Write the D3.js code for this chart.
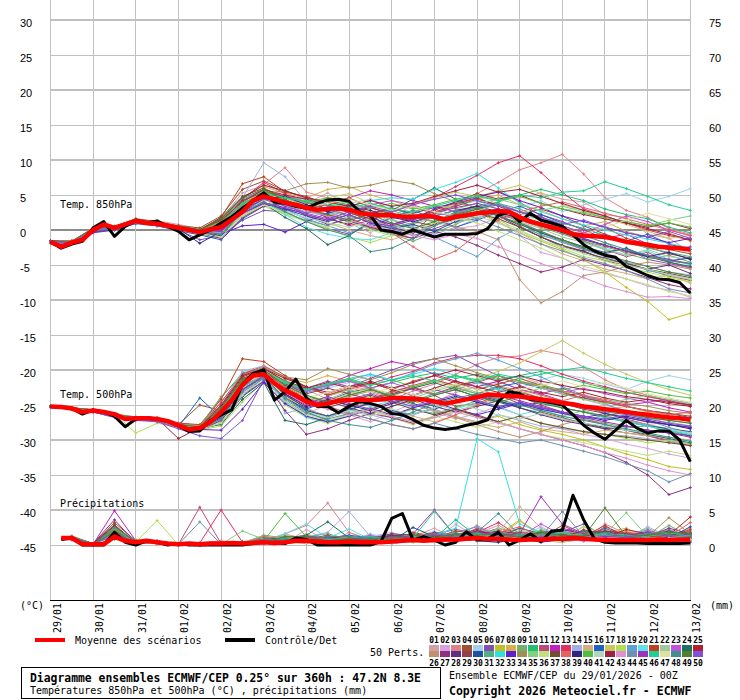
<!DOCTYPE html>
<html><head><meta charset="utf-8">
<script src="https://cdn.jsdelivr.net/npm/d3@7"></script>
<style>body{margin:0;background:#fff}svg{display:block}</style>
</head><body>
<svg id="c" width="740" height="700"></svg>
<script>
const dateLabels=["29/01","30/01","31/01","01/02","02/02","03/02","04/02","05/02","06/02","07/02","08/02","09/02","10/02","11/02","12/02","13/02"];
const leftTicks=[30,25,20,15,10,5,0,-5,-10,-15,-20,-25,-30,-35,-40,-45];
const rightTicks=[75,70,65,60,55,50,45,40,35,30,25,20,15,10,5,0];
const memberColors=["#d4a0a8","#d8a0e0","#e08088","#a05030","#a0d0f0","#8050b0","#c0c020","#d8b050","#70b070","#20c070","#c04878","#c020c0","#e03060","#a0b0e0","#d0b080","#2060c0","#c8c860","#b0e050","#60a0d8","#60e0e8","#c04020","#a0c8a0","#c050e0","#207060","#b02030",
"#c09070","#903080","#603080","#904050","#2050a0","#50b080","#30e0e0","#6020d0","#a09050","#80d080","#c0e080","#705030","#e86060","#302880","#50c040","#b0d8c0","#a02040","#e090d0","#7090b0","#a030c0","#20d090","#e0e0a0","#409090","#508030","#8050e0"];
// 6-hourly series (0..360h)
const meanT850=[-1.7,-2.4,-1.8,-1.4,0.0,0.8,0.3,0.8,1.3,1.0,0.9,0.6,0.3,0.0,-0.3,0.1,0.4,1.5,2.6,4.2,4.8,4.4,3.9,3.6,3.2,2.9,3.0,3.1,2.9,2.4,2.2,2.1,2.1,1.9,1.9,2.0,1.9,1.5,1.9,2.1,2.4,2.5,2.7,2.6,1.8,1.2,0.8,0.4,0.0,-0.6,-0.8,-0.9,-1.0,-1.3,-1.7,-1.9,-2.1,-2.4,-2.5,-2.6,-2.8];
const ctrlT850=[-1.7,-2.6,-2.0,-1.6,0.3,1.2,-0.9,0.5,1.4,1.0,1.3,0.5,-0.2,-1.4,-0.7,0.0,1.0,1.9,3.1,4.2,5.3,4.0,3.8,3.4,3.1,3.8,4.3,4.4,4.1,2.6,2.1,0.0,-0.2,-0.6,0.0,-0.5,-1.0,-0.6,-0.6,-0.6,-0.5,0.2,2.1,2.6,1.2,2.4,1.4,1.0,0.5,-0.7,-2.1,-3.0,-3.6,-3.9,-5.2,-5.8,-6.5,-7.0,-7.1,-7.5,-9.0];
const meanT500=[-25.2,-25.3,-25.5,-26.0,-25.8,-26.0,-26.3,-27.0,-26.9,-26.9,-27.0,-27.3,-27.9,-28.5,-28.3,-27.4,-26.0,-24.3,-22.1,-20.8,-20.6,-21.9,-22.9,-23.6,-24.5,-25.0,-24.8,-24.4,-24.3,-24.2,-24.3,-24.2,-24.0,-24.0,-24.1,-24.2,-24.5,-24.8,-24.5,-24.2,-23.9,-23.5,-23.6,-23.7,-23.8,-24.0,-24.2,-24.4,-24.7,-24.9,-25.2,-25.4,-25.6,-25.8,-26.0,-26.2,-26.4,-26.6,-26.8,-26.9,-27.1];
const ctrlT500=[-25.2,-25.3,-25.5,-26.3,-25.7,-26.0,-26.6,-28.1,-27.0,-26.8,-27.0,-27.3,-28.0,-28.8,-28.7,-27.2,-26.4,-25.7,-22.0,-20.5,-20.0,-24.3,-23.1,-21.3,-24.0,-25.2,-25.2,-26.1,-25.2,-24.5,-24.8,-25.2,-26.2,-26.4,-27.1,-27.9,-28.3,-28.5,-28.3,-27.9,-27.6,-27.1,-24.5,-23.1,-23.4,-24.2,-24.4,-24.7,-25.0,-26.4,-27.9,-29.0,-29.9,-28.6,-27.2,-28.3,-29.0,-28.7,-28.7,-30.0,-33.1];
// 6-hourly precipitation (6h..360h)
const meanPrecip=[1.0,1.0,0.1,0.1,0.1,1.2,0.6,0.4,0.6,0.4,0.2,0.1,0.2,0.1,0.2,0.2,0.3,0.2,0.3,0.4,0.3,0.4,0.6,0.6,0.5,0.4,0.4,0.5,0.4,0.4,0.4,0.5,0.6,0.7,0.6,0.7,0.8,0.8,0.9,1.0,0.9,0.9,0.8,0.7,0.8,0.8,0.9,0.9,1.0,0.9,0.8,0.7,0.7,0.7,0.7,0.7,0.8,0.7,0.8,0.8];
const ctrlPrecip=[0.8,1.0,0,0,0,1.8,0.4,0,0.6,0.4,0,0.2,0,0,0,0,0,0,0.2,0.4,0.3,0.2,1.0,0.8,0,0,0,0,0,0,0.5,3.8,4.5,0.7,1.2,0.7,0,0.4,1.9,0.7,0.9,1.8,0,0.7,1.6,0.5,2.0,2.1,7.1,3.6,0.9,0.4,0.3,0.3,0.3,0.2,0.2,0.2,0.2,0.3];
// 12-hourly members T850 (0..360h)
const t850Members=[
[-1.6,-1.5,-0.2,0.6,1.2,1.3,0.8,0.2,1.6,5.3,6.4,5.4,3.8,5.3,3.3,3.4,0.7,0.6,0.5,2.3,2.9,4.6,4.6,5.3,4.4,4.0,2.2,1.8,-0.6,-1.2,-3.1],
[-1.9,-2.0,0.2,0.1,1.5,0.6,0.1,-0.6,-0.4,2.0,4.2,5.6,4.4,2.6,1.0,-0.4,1.8,3.6,2.0,0.2,0.6,1.8,-0.8,-3.2,-4.0,-5.6,-6.2,-7.0,-8.0,-8.6,-9.6],
[-1.5,-1.6,0.3,0.5,1.6,1.1,0.4,-0.1,1.4,4.6,6.5,8.9,5.4,4.6,3.2,4.4,2.8,3.4,2.4,4.0,5.2,6.8,8.6,9.6,10.8,8.0,4.6,2.8,1.8,0.2,-0.6],
[-1.8,-1.7,0.1,0.2,1.0,0.7,0.6,0.3,2.0,5.8,7.0,5.6,4.6,3.6,1.8,0.4,-0.6,-1.2,0.8,2.6,3.4,2.2,0.6,-1.0,-2.2,-3.0,-4.4,-5.0,-5.6,-6.6,-7.2],
[-1.7,-1.9,-0.1,0.4,1.4,1.0,0.2,-0.4,-0.2,2.4,3.8,2.8,1.6,2.8,3.8,4.4,3.2,2.2,3.4,1.8,2.6,1.8,3.2,4.2,2.6,3.6,4.4,5.2,4.0,4.8,5.9],
[-1.6,-1.8,0.0,0.1,1.1,0.8,0.0,-1.4,-0.8,1.4,2.8,2.6,1.2,0.2,-0.6,0.8,0.2,-0.8,0.2,1.2,1.6,2.8,1.0,-0.4,-1.6,-2.8,-3.4,-2.6,-4.2,-4.8,-5.4],
[-1.7,-1.6,0.2,0.4,1.3,1.0,0.4,0.0,0.8,3.8,5.6,4.8,4.0,2.0,1.2,0.2,0.6,1.8,2.8,1.6,2.6,1.0,-0.4,-1.6,-2.8,-4.2,-6.0,-8.2,-10.2,-12.8,-11.9],
[-1.8,-1.9,-0.2,0.2,1.2,1.0,0.5,-0.3,0.6,3.8,6.2,5.2,4.6,5.8,6.2,5.0,4.2,3.2,2.4,3.8,4.4,5.0,3.6,2.8,1.6,0.6,1.2,-0.2,-1.0,-0.4,-1.6],
[-1.7,-1.7,0.0,0.3,1.5,0.9,0.3,-0.1,0.9,2.6,4.0,2.4,1.4,0.6,1.8,0.2,-0.6,-1.6,-0.4,0.8,2.2,3.0,1.0,-0.8,-1.6,-2.6,-1.8,-3.4,-4.2,-3.6,-4.6],
[-1.6,-1.7,0.2,0.4,1.3,0.9,0.6,0.1,1.5,4.4,5.6,4.6,3.4,4.2,3.6,2.4,3.2,2.0,1.2,2.6,3.4,4.0,5.0,5.8,5.0,4.2,3.0,2.2,1.6,0.4,-0.4],
[-1.8,-1.9,-0.3,0.2,1.1,0.7,0.0,-0.4,-0.3,2.2,3.6,4.4,2.2,1.4,2.6,1.2,0.6,-0.2,2.2,3.6,4.6,5.6,4.0,2.0,0.2,-1.6,-2.8,-3.8,-3.2,-4.6,-5.4],
[-1.7,-1.8,0.1,0.3,1.4,1.1,0.3,-0.2,0.8,3.0,4.6,3.0,2.4,3.8,4.6,5.6,5.0,4.2,3.4,2.6,3.4,2.2,1.4,2.2,1.2,0.0,-1.2,-0.6,-2.0,-2.8,-2.4],
[-1.6,-1.7,0.1,0.5,1.5,1.2,0.5,-0.3,1.2,4.4,6.8,5.2,3.0,1.8,0.6,1.4,2.6,3.6,4.6,6.2,7.8,9.6,10.6,8.2,5.4,3.0,2.0,1.0,0.0,-0.8,-1.4],
[-1.7,-1.8,-0.1,0.3,1.2,0.8,0.2,-0.1,1.0,4.6,9.6,7.6,4.0,2.6,1.6,2.8,1.4,0.4,-0.6,0.4,1.6,3.0,1.2,-0.2,-1.4,-2.4,-3.6,-4.6,-5.2,-6.0,-6.4],
[-1.8,-1.6,0.0,0.2,1.3,1.0,0.4,0.0,0.2,3.6,5.2,3.8,2.2,1.0,0.0,-0.8,-1.4,-0.4,0.8,2.0,2.6,1.2,-0.4,-2.0,-3.4,-4.4,-5.6,-6.2,-7.0,-6.4,-7.6],
[-1.6,-1.9,-0.4,0.0,0.9,0.6,-0.1,-0.7,-1.4,1.6,3.4,3.8,3.0,2.0,1.2,0.4,1.8,2.8,1.6,0.4,1.4,2.6,3.4,2.2,1.0,0.2,-0.8,-1.6,-0.6,-2.0,-2.8],
[-1.7,-1.8,0.1,0.4,1.2,0.9,0.5,-0.1,0.6,3.2,4.4,3.4,3.6,4.6,5.2,3.8,2.8,3.6,4.6,5.4,4.8,5.6,6.4,5.2,3.6,2.8,1.6,0.8,-0.2,-1.2,-0.8],
[-1.7,-1.6,0.3,0.6,1.4,0.9,0.2,-0.5,-0.6,2.0,3.4,2.2,1.2,0.2,-1.0,-1.8,-0.8,-0.2,0.6,1.6,2.6,1.4,0.0,-1.4,-2.6,-3.8,-4.4,-5.4,-6.0,-6.8,-7.4],
[-1.8,-1.9,-0.2,0.1,1.2,0.8,0.1,-0.3,0.2,3.0,4.4,3.0,1.6,0.6,-0.4,0.8,1.6,0.2,-1.0,-2.4,-3.8,-1.2,0.4,-0.6,-1.8,-2.8,-3.8,-4.6,-5.8,-6.4,-7.0],
[-1.7,-1.8,0.0,0.2,1.1,0.7,0.1,-0.3,0.0,2.6,4.0,2.2,0.4,-0.6,-1.2,-1.4,-0.4,1.0,2.2,3.4,4.2,3.0,1.8,0.6,-0.4,-1.8,-2.6,-3.6,-3.0,-4.2,-5.0],
[-1.6,-1.6,0.2,0.5,1.6,1.2,0.6,0.0,1.8,6.6,7.6,5.4,4.8,3.6,4.6,3.2,2.4,1.6,2.6,3.4,4.4,3.6,2.6,1.8,0.6,-0.4,0.4,-1.2,-2.0,-2.8,-3.4],
[-1.7,-1.7,0.1,0.3,1.3,0.9,0.3,-0.1,0.4,2.8,4.2,4.6,3.4,2.2,3.0,2.6,1.4,0.8,1.8,1.0,1.8,2.6,1.2,0.2,-1.0,-1.8,-2.8,-3.6,-2.8,-3.8,-4.2],
[-1.8,-1.8,-0.2,0.2,1.2,0.9,0.4,-0.2,1.0,4.2,5.8,4.8,4.4,3.4,2.6,3.6,4.2,3.6,2.6,1.8,3.0,3.8,2.6,1.6,0.6,-0.4,0.8,2.0,1.2,0.0,-0.8],
[-1.7,-1.9,-0.1,0.2,1.1,0.7,0.1,-0.5,-0.8,2.4,3.8,1.8,0.2,-2.1,-0.8,1.2,2.8,4.4,6.0,4.4,3.0,2.0,0.8,-0.4,-1.4,-2.4,-3.2,-2.6,-3.8,-4.6,-5.2],
[-1.6,-1.7,0.2,0.4,1.4,1.0,0.5,0.0,1.4,4.0,5.8,5.0,4.4,3.6,2.6,3.2,2.2,1.6,2.8,4.0,5.2,4.4,5.0,3.8,3.0,2.2,1.6,1.0,0.4,1.0,0.2],
[-1.7,-1.8,0.0,0.3,1.2,0.8,0.2,-0.2,0.5,3.2,4.8,3.9,3.1,2.0,2.8,1.4,0.8,1.8,1.2,0.4,-0.2,-1.4,-7.1,-10.4,-8.8,-6.5,-6.0,-5.2,-4.6,-5.0,-5.6],
[-1.8,-1.9,-0.3,0.0,1.0,0.6,0.0,-0.5,-1.2,1.8,3.4,3.8,2.0,0.8,1.6,0.4,-0.4,-1.2,-0.2,-1.0,-2.2,-3.6,-4.8,-6.0,-5.3,-4.2,-5.0,-5.8,-6.8,-7.8,-8.4],
[-1.7,-1.7,0.1,0.3,1.3,0.9,0.3,-0.2,0.3,3.4,4.0,2.8,3.6,1.6,0.8,2.0,0.4,-0.4,0.8,2.4,3.2,2.0,0.4,-1.0,-2.4,-3.0,-4.2,-4.8,-5.6,-5.0,-6.2],
[-1.6,-1.6,0.2,0.5,1.4,1.0,0.4,-0.1,1.2,4.2,5.4,4.8,4.0,3.0,3.6,2.4,3.0,2.4,3.2,3.8,4.6,3.4,2.2,3.0,2.0,0.6,-0.6,-1.6,-2.4,-3.4,-4.0],
[-1.7,-1.8,-0.2,0.1,1.2,0.8,0.2,-0.3,0.0,2.4,3.8,3.0,2.0,1.2,2.2,1.0,0.2,0.8,-0.2,1.2,2.4,3.0,1.8,0.6,-0.4,-1.4,-2.2,-3.0,-3.8,-4.4,-4.0],
[-1.7,-1.7,0.1,0.4,1.3,0.9,0.3,-0.1,1.0,3.8,5.2,4.6,3.8,4.2,3.0,2.2,2.8,1.8,1.2,2.4,3.2,3.8,3.0,1.8,1.0,0.2,-0.8,-1.8,-2.6,-3.2,-3.8],
[-1.8,-1.8,0.0,0.2,1.2,0.9,0.3,-0.2,0.5,3.0,4.4,3.4,2.6,2.2,3.4,4.2,4.6,4.4,5.8,6.8,8.1,6.0,3.8,2.6,1.6,0.7,0.0,-0.7,-1.3,-1.9,-2.6],
[-1.6,-1.8,-0.1,0.3,1.1,0.8,0.2,-0.4,-0.6,0.6,0.8,-0.3,1.2,2.4,3.2,1.8,0.8,1.6,3.0,4.0,4.8,5.4,4.2,3.2,2.0,1.2,0.4,-0.4,-1.0,-1.8,-1.2],
[-1.7,-1.7,0.2,0.4,1.5,1.0,0.4,0.0,1.2,3.8,5.2,5.6,6.6,6.8,6.0,6.4,7.1,6.6,5.2,4.0,3.2,2.4,1.4,0.4,-0.6,-1.6,-2.4,-3.2,-3.8,-4.4,-4.8],
[-1.7,-1.8,0.0,0.3,1.3,0.9,0.3,-0.2,0.6,3.4,5.0,4.2,3.4,3.8,3.2,2.4,1.6,2.6,3.6,3.0,3.8,4.4,3.6,2.8,3.4,2.6,1.8,1.2,0.6,1.4,2.0],
[-1.8,-1.9,-0.1,0.2,1.2,0.7,0.0,-0.5,-1.0,2.0,3.6,2.4,1.2,0.4,1.2,0.0,-0.8,0.2,1.0,1.8,1.0,-0.2,-1.4,-2.6,-4.0,-5.2,-6.0,-7.0,-7.8,-8.8,-9.4],
[-1.6,-1.7,0.1,0.4,1.4,1.0,0.5,0.0,1.8,4.8,6.0,4.4,3.0,3.8,2.4,1.6,2.2,1.2,0.6,1.6,2.4,1.6,0.4,-1.0,-2.2,-3.2,-4.0,-4.8,-5.6,-6.2,-6.8],
[-1.7,-1.6,0.2,0.5,1.4,1.1,0.5,0.0,0.9,3.6,5.2,4.0,2.8,2.2,1.4,0.6,-0.4,-2.4,-4.2,-3.0,-0.6,1.4,2.6,3.4,4.0,3.2,2.4,1.6,0.8,0.0,-0.8],
[-1.7,-1.8,-0.1,0.2,1.2,0.8,0.2,-1.9,-0.2,2.8,4.4,4.8,3.6,2.6,3.4,2.8,1.8,1.2,2.0,2.8,3.4,2.6,1.6,0.8,-0.2,-1.2,-2.2,-3.0,-3.8,-3.2,-4.2],
[-1.7,-1.7,0.1,0.3,1.3,1.0,0.3,-0.1,1.1,3.6,5.4,4.6,4.0,4.6,3.8,3.2,3.8,3.0,3.6,4.4,5.0,4.2,4.8,3.8,3.0,2.4,1.8,1.2,0.6,1.0,0.4],
[-1.8,-1.8,0.0,0.2,1.1,0.8,0.2,-0.4,-0.4,2.2,3.6,2.6,1.8,1.0,0.4,1.2,0.6,-0.2,0.6,1.4,2.0,1.0,-0.2,-1.4,-2.4,-3.4,-4.2,-5.0,-5.6,-6.4,-7.0],
[-1.6,-1.7,0.2,0.4,1.4,1.0,0.4,0.0,1.6,4.6,6.4,5.6,4.6,4.0,3.4,4.2,3.4,3.8,4.8,5.6,6.4,5.4,5.8,4.8,3.8,2.8,2.0,1.0,0.2,-0.6,-1.4],
[-1.7,-1.8,0.0,0.3,1.2,0.8,0.2,-0.2,0.4,3.2,4.8,3.6,2.6,2.0,1.4,0.6,0.0,-0.8,-1.4,-0.6,-1.2,-2.4,-3.6,-4.8,-5.8,-6.8,-8.0,-8.8,-9.6,-9.5,-9.8],
[-1.7,-1.7,0.1,0.3,1.3,0.9,0.3,-0.2,0.5,3.4,5.0,3.6,2.4,3.0,2.0,1.2,0.4,1.0,2.0,2.8,1.6,0.4,-0.8,-2.0,-3.0,-4.0,-4.8,-5.8,-7.0,-8.4,-9.0],
[-1.8,-1.9,-0.2,0.1,1.1,0.7,0.1,-0.4,-0.2,2.4,3.8,3.2,2.2,1.4,2.2,1.0,0.6,1.4,2.4,3.2,3.8,3.0,2.0,1.0,0.0,-1.2,-2.2,-3.0,-3.6,-4.2,-4.8],
[-1.7,-1.7,0.1,0.4,1.3,0.9,0.4,-0.1,0.8,3.8,5.2,4.6,4.2,3.6,3.2,3.8,3.0,2.6,3.4,4.2,4.8,4.2,5.0,4.6,5.4,5.6,6.9,5.9,4.8,3.6,2.8],
[-1.7,-1.8,0.0,0.2,1.2,0.8,0.2,-0.3,0.2,2.8,4.2,3.6,3.2,3.8,4.4,3.6,2.8,3.4,2.6,2.0,2.8,3.6,2.4,1.2,0.2,-0.6,0.4,1.4,2.4,1.6,0.8],
[-1.7,-1.8,-0.1,0.2,1.1,0.8,0.2,-0.3,-0.6,2.6,4.0,2.6,1.2,0.0,-0.8,-3.1,-2.6,-1.2,0.6,2.0,3.0,3.6,2.6,1.4,0.2,-0.8,-1.8,-2.8,-3.6,-4.4,-4.8],
[-1.6,-1.7,0.2,0.5,1.5,1.1,0.5,0.0,1.6,4.6,5.8,4.2,3.0,2.2,1.4,2.2,1.0,0.2,1.2,2.2,3.0,2.0,1.0,-0.2,-1.4,-2.6,-3.6,-4.4,-5.2,-6.0,-6.6],
[-1.7,-1.8,0.0,0.3,1.2,0.8,0.2,-0.2,0.0,2.6,4.4,3.4,2.4,1.6,2.6,3.4,2.6,3.6,4.4,5.0,4.2,3.4,2.6,1.8,0.8,1.4,0.4,-0.4,-1.0,-0.2,-1.2]];
// 12-hourly members T500 (0..360h)
const t500Members=[
[-25.1,-25.4,-25.9,-26.3,-26.7,-27.2,-27.6,-27.9,-24.6,-20.8,-20.2,-21.4,-22.8,-24.2,-23.0,-22.4,-24.0,-25.4,-24.6,-23.2,-22.4,-21.6,-20.8,-22.0,-23.0,-24.2,-25.0,-25.8,-26.8,-27.6,-28.2],
[-25.3,-25.6,-25.7,-26.6,-27.0,-26.8,-27.5,-28.0,-27.0,-23.6,-21.2,-24.6,-26.2,-25.0,-26.4,-27.4,-26.0,-24.8,-26.0,-27.0,-26.2,-25.2,-26.4,-27.6,-28.4,-29.2,-29.8,-30.6,-31.2,-32.0,-32.6],
[-25.2,-25.4,-25.8,-26.4,-26.8,-27.1,-28.0,-28.4,-25.4,-20.8,-19.6,-21.0,-22.6,-23.4,-22.4,-23.2,-24.2,-23.0,-22.0,-20.6,-19.2,-18.2,-18.0,-17.2,-17.8,-19.6,-21.4,-22.8,-23.6,-24.4,-25.2],
[-25.2,-25.5,-25.7,-26.5,-26.8,-27.0,-27.8,-25.0,-25.8,-21.8,-20.0,-23.4,-25.6,-26.6,-25.4,-24.2,-23.0,-22.4,-23.6,-25.2,-24.8,-23.6,-24.8,-26.0,-26.8,-27.6,-28.4,-29.0,-29.4,-30.2,-30.8],
[-25.2,-25.6,-26.0,-26.7,-27.0,-27.2,-28.0,-28.5,-27.2,-23.4,-21.4,-22.0,-23.2,-22.6,-21.8,-20.8,-22.4,-23.8,-22.6,-21.6,-22.8,-21.8,-22.6,-21.4,-20.6,-21.2,-22.0,-22.8,-21.6,-20.8,-21.4],
[-25.3,-25.5,-25.9,-26.6,-27.1,-27.2,-28.1,-28.6,-27.6,-23.8,-21.0,-21.8,-22.6,-21.6,-22.4,-21.2,-20.0,-19.0,-18.4,-17.9,-19.4,-20.8,-22.2,-23.4,-24.4,-25.2,-26.2,-27.0,-27.8,-28.6,-29.4],
[-25.2,-25.5,-25.8,-26.5,-26.9,-27.0,-27.9,-28.3,-26.4,-22.2,-20.4,-23.8,-25.8,-26.8,-25.6,-26.4,-25.2,-24.4,-25.6,-26.8,-27.4,-26.6,-27.8,-28.6,-29.2,-30.0,-31.0,-32.0,-32.8,-33.8,-34.2],
[-25.1,-25.4,-25.7,-26.4,-26.8,-26.9,-27.7,-28.1,-25.0,-20.6,-19.8,-21.2,-21.8,-20.8,-21.6,-22.8,-23.8,-22.6,-21.4,-22.4,-23.4,-22.2,-23.0,-24.0,-24.6,-25.0,-25.6,-25.2,-26.0,-26.4,-27.0],
[-25.2,-25.5,-25.9,-26.5,-26.9,-27.0,-27.9,-28.4,-26.8,-22.8,-20.8,-24.4,-26.6,-27.4,-26.2,-25.4,-26.4,-25.6,-26.2,-25.4,-24.4,-25.2,-24.6,-25.6,-26.2,-27.0,-27.6,-28.2,-28.0,-28.8,-29.4],
[-25.2,-25.4,-25.8,-26.4,-26.8,-27.1,-27.8,-28.2,-24.0,-20.4,-19.8,-21.6,-23.0,-22.2,-21.4,-22.6,-21.8,-21.0,-20.4,-21.2,-20.6,-21.4,-20.8,-20.2,-21.0,-21.8,-22.6,-23.2,-23.8,-24.4,-25.0],
[-25.3,-25.6,-25.9,-26.6,-27.0,-27.1,-28.0,-28.4,-26.6,-22.6,-20.6,-23.4,-25.0,-24.0,-25.2,-24.2,-23.2,-22.2,-21.4,-22.2,-21.6,-22.8,-23.8,-25.0,-26.0,-27.0,-27.8,-28.6,-29.4,-30.0,-30.6],
[-25.2,-25.5,-25.8,-26.5,-26.9,-27.0,-27.8,-28.2,-25.6,-21.4,-20.2,-22.0,-23.0,-22.0,-20.8,-19.8,-18.8,-19.4,-20.6,-21.6,-22.4,-21.6,-22.8,-23.4,-22.6,-23.8,-24.4,-25.0,-24.6,-25.4,-26.0],
[-25.1,-25.4,-25.7,-26.4,-26.8,-27.0,-27.8,-28.2,-24.6,-20.6,-19.4,-21.0,-22.4,-23.6,-22.8,-22.0,-21.0,-20.2,-19.0,-18.2,-17.9,-17.9,-18.4,-19.4,-20.6,-21.6,-22.4,-23.2,-23.8,-24.4,-25.0],
[-25.2,-25.5,-25.9,-26.5,-26.9,-27.1,-27.9,-28.3,-25.2,-20.2,-19.4,-26.2,-25.4,-26.8,-25.6,-26.4,-27.2,-26.2,-25.6,-26.6,-27.4,-26.4,-27.2,-28.0,-28.4,-28.8,-29.2,-29.4,-29.8,-30.2,-30.6],
[-25.2,-25.5,-25.8,-26.5,-26.9,-27.0,-27.9,-28.3,-26.2,-22.4,-20.8,-23.6,-25.8,-26.6,-25.4,-24.6,-25.6,-26.6,-27.4,-26.6,-27.6,-28.2,-27.4,-28.4,-28.8,-29.2,-28.6,-29.0,-29.4,-29.6,-30.0],
[-25.3,-25.6,-26.0,-26.7,-27.1,-27.2,-28.1,-24.0,-26.8,-23.8,-21.6,-24.0,-25.6,-24.4,-23.2,-22.6,-23.8,-24.8,-25.6,-24.6,-23.4,-22.4,-21.8,-22.6,-23.4,-24.0,-24.6,-25.2,-25.8,-26.2,-26.8],
[-25.2,-25.5,-25.8,-26.5,-26.9,-27.0,-27.9,-28.3,-26.0,-22.1,-20.6,-22.2,-23.6,-24.4,-23.4,-22.6,-23.4,-22.4,-21.6,-22.4,-21.2,-20.2,-19.0,-17.4,-15.8,-17.6,-19.2,-20.6,-21.8,-22.8,-23.6],
[-25.1,-25.4,-25.7,-26.3,-29.0,-27.6,-28.2,-28.6,-28.0,-24.6,-21.6,-25.0,-26.8,-27.6,-26.6,-25.8,-26.8,-27.8,-26.8,-25.8,-26.6,-27.4,-26.6,-27.6,-28.2,-28.8,-29.2,-29.8,-30.4,-30.0,-30.6],
[-25.2,-25.5,-25.8,-26.5,-26.9,-27.0,-27.9,-28.3,-26.0,-22.2,-20.7,-22.0,-23.2,-22.4,-21.4,-20.6,-21.6,-20.4,-19.2,-18.4,-17.6,-18.6,-19.8,-21.0,-22.4,-23.6,-24.8,-26.0,-27.2,-28.2,-29.0],
[-25.2,-25.6,-25.9,-26.6,-27.0,-27.1,-28.0,-28.4,-26.8,-22.8,-21.0,-24.6,-26.8,-27.4,-26.4,-25.2,-24.4,-25.4,-26.4,-25.6,-24.6,-25.4,-26.4,-25.6,-26.6,-27.2,-26.4,-27.4,-28.0,-28.6,-29.2],
[-25.2,-25.4,-25.7,-26.4,-26.8,-26.9,-27.6,-27.8,-24.2,-18.4,-18.8,-20.8,-22.4,-23.6,-22.6,-21.8,-22.8,-21.6,-20.8,-21.8,-22.8,-22.0,-21.2,-22.2,-23.2,-24.0,-24.6,-25.2,-25.8,-26.2,-26.6],
[-25.2,-25.5,-25.8,-26.5,-26.9,-27.0,-27.9,-28.3,-27.4,-23.2,-20.8,-23.2,-24.8,-25.6,-26.4,-25.4,-24.6,-23.8,-24.8,-25.8,-25.0,-24.2,-25.0,-25.8,-26.6,-25.8,-26.6,-27.2,-27.8,-27.4,-28.0],
[-25.3,-25.6,-25.9,-26.6,-27.0,-27.1,-28.0,-28.4,-26.0,-21.6,-20.2,-21.8,-23.0,-22.2,-21.6,-22.6,-21.8,-22.8,-23.6,-22.8,-21.8,-20.8,-21.6,-22.4,-23.2,-22.6,-23.4,-24.0,-24.6,-24.2,-24.8],
[-25.2,-25.5,-25.8,-26.5,-26.9,-27.0,-27.9,-28.3,-27.8,-24.2,-21.8,-27.2,-27.8,-26.8,-25.8,-24.6,-23.6,-22.6,-21.8,-22.8,-23.8,-24.6,-25.4,-26.2,-27.0,-27.6,-28.2,-28.6,-29.2,-29.8,-30.4],
[-25.1,-25.4,-25.7,-26.4,-26.8,-26.9,-29.8,-28.2,-25.2,-21.0,-19.8,-21.6,-22.6,-21.8,-22.6,-21.8,-22.8,-23.6,-22.6,-21.6,-22.4,-23.2,-22.4,-23.2,-23.8,-23.2,-24.0,-24.6,-24.2,-24.8,-25.2],
[-25.2,-25.5,-25.8,-26.5,-26.9,-27.0,-27.9,-28.3,-26.4,-22.0,-20.4,-22.4,-24.0,-24.8,-23.8,-23.0,-24.0,-25.0,-25.8,-26.8,-27.8,-28.8,-29.6,-28.8,-27.8,-27.0,-26.6,-27.2,-27.8,-28.4,-29.0],
[-25.3,-25.6,-26.0,-26.7,-27.1,-27.3,-28.2,-28.6,-27.2,-23.6,-21.6,-25.8,-29.2,-28.4,-27.2,-26.2,-26.8,-27.6,-26.6,-25.6,-26.4,-27.4,-28.4,-29.2,-30.0,-30.8,-31.8,-33.2,-35.0,-37.8,-36.8],
[-25.2,-25.5,-25.8,-26.5,-26.9,-27.0,-27.9,-28.3,-26.2,-22.4,-20.6,-23.6,-25.4,-24.4,-25.4,-26.2,-25.2,-24.2,-25.2,-26.0,-25.2,-24.4,-25.4,-26.4,-27.2,-27.8,-28.4,-28.0,-28.6,-29.0,-29.4],
[-25.2,-25.4,-25.8,-26.4,-26.8,-27.0,-27.8,-28.2,-25.6,-21.4,-20.0,-22.0,-23.4,-22.6,-23.4,-24.2,-23.4,-22.6,-23.4,-22.4,-21.6,-22.4,-23.2,-24.0,-24.8,-25.6,-26.2,-26.8,-27.4,-27.8,-28.2],
[-25.2,-25.5,-25.9,-26.5,-26.9,-27.1,-27.9,-28.4,-26.6,-22.8,-21.0,-24.0,-25.8,-26.6,-25.6,-24.8,-25.8,-26.4,-25.4,-24.4,-23.6,-24.4,-25.2,-24.6,-25.4,-26.0,-26.8,-27.4,-28.0,-28.4,-28.8],
[-25.2,-25.5,-25.8,-26.5,-26.9,-27.0,-27.9,-28.3,-25.8,-21.8,-20.4,-22.2,-23.8,-24.6,-23.6,-22.8,-23.6,-24.4,-23.4,-22.6,-23.4,-22.6,-23.4,-24.2,-24.8,-25.4,-26.0,-26.4,-26.8,-27.2,-27.6],
[-25.2,-25.6,-25.9,-26.6,-27.0,-27.1,-28.0,-28.4,-26.4,-22.4,-20.6,-21.8,-22.8,-22.0,-21.2,-20.6,-21.4,-20.6,-19.8,-20.8,-21.8,-22.8,-23.8,-24.6,-25.4,-26.0,-26.8,-27.4,-28.0,-28.6,-29.2],
[-25.3,-25.6,-25.9,-26.6,-27.0,-27.2,-28.1,-28.5,-28.6,-25.6,-21.8,-24.8,-26.6,-27.4,-26.6,-25.6,-26.4,-25.4,-24.6,-25.6,-26.4,-25.6,-24.8,-25.6,-26.2,-26.8,-26.2,-26.8,-27.4,-27.8,-28.2],
[-25.1,-25.4,-25.7,-26.3,-26.7,-26.9,-27.7,-28.0,-23.8,-20.8,-19.6,-21.0,-21.4,-19.8,-20.6,-21.4,-20.4,-19.2,-18.4,-19.4,-20.4,-21.2,-21.8,-22.4,-23.0,-23.6,-24.2,-24.8,-25.2,-25.8,-26.2],
[-25.2,-25.5,-25.8,-26.5,-26.9,-27.0,-27.9,-28.3,-26.6,-22.6,-20.6,-23.0,-24.6,-23.8,-22.8,-23.8,-24.8,-24.0,-23.0,-22.2,-23.2,-24.2,-23.4,-22.6,-23.4,-24.2,-24.8,-24.2,-23.6,-24.2,-24.8],
[-25.2,-25.6,-26.0,-26.7,-27.1,-27.2,-28.1,-28.5,-27.6,-23.6,-21.2,-24.4,-26.4,-27.2,-26.4,-25.6,-26.6,-27.4,-26.6,-27.4,-28.2,-27.4,-28.4,-29.2,-29.8,-30.4,-31.0,-31.6,-32.2,-31.6,-32.2],
[-25.2,-25.5,-25.8,-26.5,-26.9,-27.0,-27.9,-28.3,-25.4,-21.2,-20.0,-22.6,-24.6,-25.4,-24.4,-23.6,-24.6,-25.6,-26.4,-25.6,-26.6,-27.4,-26.6,-27.6,-28.2,-28.8,-29.2,-29.6,-30.0,-30.4,-30.8],
[-25.1,-25.4,-25.7,-26.4,-26.8,-27.0,-27.8,-28.2,-25.8,-21.8,-20.4,-22.4,-24.0,-25.2,-26.2,-27.0,-27.8,-28.4,-27.6,-26.4,-25.0,-23.8,-22.8,-23.6,-24.4,-23.6,-24.4,-25.2,-25.8,-26.4,-26.0],
[-25.2,-25.5,-25.9,-26.5,-26.9,-27.1,-27.9,-28.3,-26.8,-22.6,-20.8,-23.4,-25.2,-24.2,-25.0,-25.8,-24.8,-23.8,-24.6,-23.8,-24.6,-25.4,-24.6,-25.4,-26.0,-26.6,-27.2,-26.6,-27.2,-27.8,-28.4],
[-25.2,-25.4,-25.8,-26.4,-26.8,-27.0,-27.8,-28.2,-25.4,-21.4,-20.2,-21.6,-22.8,-22.0,-21.2,-22.2,-21.4,-22.4,-21.6,-20.8,-21.6,-20.8,-21.6,-22.2,-22.8,-22.2,-22.8,-23.4,-23.0,-23.6,-24.0],
[-25.2,-25.5,-25.8,-26.5,-26.9,-27.0,-27.9,-28.3,-26.6,-22.6,-20.8,-24.0,-26.0,-26.8,-25.8,-26.6,-25.6,-26.4,-25.4,-24.6,-25.6,-26.4,-27.0,-26.2,-27.0,-27.6,-28.0,-28.6,-29.0,-28.4,-29.0],
[-25.2,-25.5,-25.8,-26.5,-26.9,-27.0,-27.8,-28.2,-25.0,-20.8,-19.8,-21.2,-22.4,-23.2,-22.4,-21.6,-22.6,-21.8,-20.8,-20.0,-20.8,-21.6,-20.8,-21.6,-22.2,-22.8,-23.2,-23.8,-24.2,-24.6,-25.0],
[-25.2,-25.5,-25.8,-26.5,-26.9,-27.0,-27.9,-28.3,-26.2,-22.0,-20.4,-23.0,-24.8,-25.6,-26.4,-25.6,-26.6,-27.4,-26.8,-26.0,-26.8,-27.6,-28.4,-29.2,-30.0,-30.8,-31.8,-32.6,-33.6,-34.4,-35.0],
[-25.3,-25.6,-26.0,-26.7,-27.1,-27.2,-28.1,-28.5,-27.0,-23.2,-21.2,-24.2,-26.2,-27.0,-26.2,-27.0,-27.8,-28.4,-27.6,-28.4,-29.2,-29.8,-30.4,-30.0,-30.8,-31.6,-32.4,-33.4,-34.4,-36.0,-34.8],
[-25.2,-25.5,-25.8,-26.5,-26.9,-27.1,-28.0,-28.4,-26.6,-22.8,-20.8,-23.2,-24.8,-23.8,-24.8,-25.6,-24.6,-23.6,-22.8,-23.6,-24.4,-23.6,-24.4,-25.2,-26.0,-26.8,-27.4,-28.0,-28.6,-29.0,-29.6],
[-25.2,-25.4,-25.7,-26.4,-26.8,-26.9,-27.8,-28.2,-25.6,-21.6,-20.2,-21.8,-22.8,-22.0,-21.4,-22.2,-21.4,-20.8,-21.6,-20.8,-21.4,-20.6,-21.2,-20.6,-20.0,-19.6,-20.4,-21.2,-21.8,-22.4,-23.0],
[-25.2,-25.5,-25.8,-26.5,-26.9,-27.0,-27.9,-28.3,-26.0,-22.1,-20.6,-22.6,-24.0,-23.2,-22.4,-23.2,-22.6,-23.6,-22.8,-22.0,-22.8,-23.6,-22.8,-22.2,-21.6,-22.4,-21.8,-22.6,-23.4,-24.0,-24.6],
[-25.2,-25.6,-25.9,-26.6,-27.0,-27.1,-28.0,-28.4,-27.0,-23.0,-21.0,-24.0,-26.0,-27.2,-27.8,-28.2,-27.2,-26.0,-24.8,-24.0,-23.4,-24.2,-25.0,-25.8,-26.6,-27.2,-27.8,-28.4,-29.0,-29.6,-30.2],
[-25.1,-25.4,-25.7,-26.4,-26.8,-26.9,-27.8,-28.2,-25.4,-21.4,-20.0,-22.2,-23.6,-24.6,-23.6,-22.8,-23.8,-24.6,-23.6,-22.8,-23.8,-24.6,-23.8,-24.8,-25.4,-26.0,-26.6,-26.0,-26.8,-27.2,-27.6],
[-25.3,-25.6,-26.0,-26.8,-27.2,-27.4,-28.4,-29.4,-29.8,-27.2,-21.4,-22.6,-24.2,-25.0,-24.2,-23.4,-24.4,-25.2,-24.4,-23.6,-24.4,-25.2,-24.6,-25.4,-26.0,-26.6,-27.0,-26.4,-27.0,-27.6,-28.0]];
// 12-hourly member precipitation (12h..360h), mm
const precipMembers=[
[1.0,0.1,1.5,0.3,0.2,0,0,0.1,0.3,0.4,1.6,0.8,0.3,1.8,0.6,0.2,1.2,2.4,0.8,1.6,2.8,1.2,0.6,2.2,1.4,0.6,1.2,2.4,1.0,0.4],
[0.8,0,2.4,0.5,0.3,0.1,0,0.2,0,1.0,0.3,2.2,0.6,0.4,1.2,1.8,0.8,0.5,3.0,1.0,1.6,2.4,0.8,1.2,2.6,1.0,0.4,1.6,2.2,1.2],
[1.2,0.2,1.0,0.4,0.5,0.1,0.3,0.6,0.2,0.6,1.6,2.8,6.0,1.8,0.8,0.4,1.4,1.0,1.2,2.8,1.2,0.8,2.0,1.0,0.6,3.0,1.6,0.8,1.2,2.4],
[0.9,0.1,3.2,0.6,0.2,0,0.1,0.3,0.1,0.8,0.6,1.0,0.4,0.8,0.4,0.6,1.8,1.2,1.0,1.4,2.4,1.6,1.0,2.8,1.4,0.6,1.0,1.8,0.8,1.4],
[1.1,0.2,1.8,0.2,0.6,0.1,0,0.1,0.4,1.2,0.4,0.6,1.0,0.6,1.6,0.8,1.0,2.0,0.6,1.2,1.8,1.0,2.6,1.2,0.8,1.6,0.6,1.2,1.8,0.8],
[0.7,0,2.0,0.4,0.3,0.2,0.1,0.2,0.2,0.6,1.0,1.4,0.8,0.4,1.0,1.2,0.6,1.6,2.2,1.8,1.0,1.4,0.8,1.8,3.0,1.2,1.6,0.8,0.6,1.0],
[1.0,0.1,1.2,0.8,0.4,0,0,0.4,0.1,0.4,0.8,0.6,1.2,1.0,0.4,1.6,1.2,0.8,1.8,1.0,1.4,3.6,1.2,0.8,1.6,2.2,1.0,0.6,1.2,1.6],
[1.3,0.2,2.8,0.3,0.2,0.1,0.2,0.1,0.5,0.8,0.4,1.6,0.6,1.2,0.8,0.4,1.6,1.2,1.0,2.0,1.2,3.4,1.6,1.0,1.2,1.8,2.4,1.0,1.6,0.8],
[0.9,0.1,0.8,0.5,0.3,0,0.1,0.2,0.3,1.4,1.0,0.8,0.4,0.6,1.2,0.8,0.6,1.8,1.2,1.6,2.2,0.8,1.2,1.6,0.8,1.2,1.8,1.0,2.8,1.2],
[1.1,0,1.6,0.4,0.5,0.1,0,0.3,0.2,0.4,0.6,1.2,1.6,0.8,0.6,1.0,1.2,1.0,3.6,1.2,0.8,1.8,1.4,1.0,2.0,0.8,1.2,2.2,1.0,1.8],
[1.0,0.2,2.2,0.3,0.2,0.1,5.4,0.2,0.1,0.8,1.2,1.0,0.6,0.4,0.8,1.2,0.8,1.4,1.0,2.4,1.6,1.0,1.8,1.2,0.8,2.6,1.4,1.2,0.8,1.6],
[0.8,0.1,4.9,0.6,0.3,0,0.1,0.1,0.2,0.6,0.4,0.8,1.0,1.2,0.4,0.6,1.6,5.0,1.2,1.4,1.0,1.6,1.2,2.4,1.6,1.0,0.8,1.4,2.0,1.0],
[1.2,0.1,1.4,0.5,0.4,0.2,0.3,5.0,0.4,0.4,1.0,0.6,0.8,0.6,1.0,0.8,1.2,1.6,1.4,1.8,3.2,1.2,1.6,0.8,2.2,1.2,1.8,1.0,1.4,2.0],
[0.9,0.2,1.1,0.3,0.6,0,0,0.2,0.3,1.0,0.8,1.2,1.8,4.8,1.2,0.6,0.8,1.0,1.6,1.2,1.4,2.0,1.0,1.8,1.2,1.6,0.8,2.6,1.2,1.0],
[1.0,0.1,1.9,0.4,0.2,0.1,0.1,0.3,0.2,0.6,1.4,1.0,0.6,0.8,0.4,1.2,1.0,0.8,1.2,2.2,1.8,5.5,2.4,1.2,1.0,1.4,2.0,1.2,0.8,1.8],
[1.1,0,1.3,0.5,0.3,0,0.2,0.2,0.1,1.2,0.6,0.8,1.0,1.4,1.0,1.6,1.4,1.2,0.8,1.6,2.0,1.2,1.8,1.4,1.0,2.4,1.2,1.6,1.8,0.8],
[0.8,0.2,1.7,0.3,0.4,0.1,0,0.1,0.4,0.4,1.2,0.6,0.8,1.0,0.6,1.0,1.4,1.8,1.0,1.2,1.6,2.2,0.8,1.6,1.4,1.0,2.0,1.2,1.6,1.4],
[1.0,0.1,2.6,0.4,3.5,0,0.1,0.2,0.3,0.8,0.4,1.0,0.6,0.4,0.8,0.6,1.0,1.2,1.6,1.4,1.0,1.8,1.2,1.0,2.6,1.6,1.2,0.8,1.8,1.2],
[0.9,0.2,1.0,0.6,0.3,0.1,0.2,0.4,0.2,1.0,0.8,0.6,1.2,0.8,1.2,0.8,0.6,1.4,1.8,2.6,1.2,1.6,1.0,2.0,1.4,1.2,1.6,1.0,2.2,1.2],
[1.2,0.1,1.5,0.3,0.5,0,0,0.1,0.2,0.6,1.6,3.0,1.0,2.3,0.8,1.2,1.0,0.8,1.2,1.8,1.4,1.0,2.2,1.2,1.6,0.8,1.4,1.8,1.0,1.6],
[1.0,0.2,2.1,0.5,0.3,0.1,0.1,0.2,0.1,0.4,0.6,0.8,1.4,0.6,1.0,1.4,1.2,1.0,2.0,1.6,1.8,1.2,1.4,1.6,1.2,2.8,1.0,1.4,1.2,2.2],
[0.8,0,0.9,0.4,0.6,0.1,0,0.3,0.3,1.2,1.0,0.6,0.8,1.2,0.6,0.8,1.6,1.2,1.4,1.0,2.4,1.4,1.2,1.8,1.0,1.4,1.6,1.2,1.8,1.0],
[1.1,0.1,1.3,0.2,0.4,0.2,0.1,0.1,0.2,0.8,1.2,1.0,0.6,0.8,1.4,0.6,1.0,1.6,1.2,2.0,1.6,1.2,3.0,1.4,1.8,1.0,1.2,2.0,1.4,1.2],
[1.0,0.2,2.3,0.6,0.2,0,0.2,0.2,0.4,0.6,0.8,1.4,3.3,1.0,0.8,1.0,1.2,1.4,1.0,1.6,1.2,2.4,1.6,1.2,2.0,1.8,1.0,1.6,1.2,1.8],
[0.9,0.1,1.8,0.4,0.3,0.1,0,0.2,0.2,1.0,0.6,1.2,0.8,0.6,1.0,1.2,0.8,1.2,1.4,1.0,2.0,1.6,1.2,1.8,1.4,1.2,2.2,1.6,1.4,4.0],
[1.3,0.1,1.1,0.5,0.4,0,0.1,0.3,0.1,0.2,0.4,0.2,0.6,0.4,0.2,0.4,0.8,0.4,1.0,0.6,0.4,0.8,0.6,0.4,0.8,0.6,0.4,0.8,0.6,0.6],
[0.8,0.2,3.6,0.3,0.5,0.1,0.1,0.1,0.3,0.4,0.8,1.0,0.6,1.2,0.8,1.4,1.0,1.8,1.2,1.6,1.2,1.0,2.0,1.6,1.0,1.4,1.8,1.2,2.4,1.6],
[1.0,0,1.4,0.4,0.3,0.2,0,0.2,0.2,0.8,0.6,1.2,1.0,0.8,1.2,1.0,1.2,1.4,1.0,1.8,1.6,1.4,1.2,2.2,1.6,1.0,1.4,1.8,1.2,1.4],
[1.1,0.1,2.0,0.5,0.2,0.1,0.2,0.3,0.1,1.0,0.8,0.6,0.8,0.6,1.0,1.2,1.6,1.2,1.4,2.2,1.2,1.8,1.4,1.2,1.8,2.0,1.2,1.4,1.6,1.2],
[0.9,0.2,1.2,0.3,0.4,0,0.1,0.1,0.3,0.6,1.2,0.8,0.6,1.0,0.8,0.6,2.5,1.2,1.6,1.4,1.8,1.2,1.6,1.0,1.4,1.8,1.2,1.6,1.0,2.6],
[1.0,0.1,1.6,0.6,0.3,0.1,0,0.2,0.2,0.2,0.6,0.4,0.8,0.2,0.4,0.6,0.4,0.8,0.6,1.0,0.6,0.8,0.4,1.0,0.6,0.8,0.6,0.4,0.8,1.0],
[1.2,0.2,1.9,0.4,0.5,0,0.1,0.2,0.1,0.8,0.6,0.8,1.0,0.6,1.2,0.8,1.0,1.4,2.4,15.2,13.3,3.0,1.8,1.2,1.6,1.0,1.4,1.2,1.8,1.0],
[0.9,0.1,1.0,0.5,0.2,0.1,0.1,0.3,0.3,0.4,0.2,0.6,0.4,0.6,0.4,0.2,0.6,0.8,0.6,0.8,0.6,1.0,0.4,0.8,0.6,1.0,0.6,0.4,0.8,0.6],
[1.1,0.2,2.4,0.4,0.4,0,0.2,0.2,0.2,1.0,1.2,0.6,1.2,0.8,1.0,0.8,1.4,1.0,1.2,1.8,1.2,1.4,1.6,1.2,1.8,1.0,1.4,1.2,3.9,1.6],
[1.0,0,1.3,0.3,0.3,0.1,0,0.1,2.0,0.8,1.2,1.0,0.6,1.2,0.6,1.0,1.2,1.4,1.0,1.6,1.2,1.6,1.4,1.8,1.2,1.6,4.6,1.2,1.4,1.0],
[0.8,0.1,1.7,0.5,0.5,0.1,0.1,0.2,0.3,0.2,0.4,0.4,0.6,0.2,0.6,0.8,0.4,0.6,1.0,0.6,1.2,0.6,0.8,0.4,1.0,0.6,0.4,1.0,0.6,0.8],
[1.2,0.2,2.9,0.3,0.2,0,0.1,0.3,0.1,0.4,0.8,1.2,1.0,0.6,1.2,0.8,1.4,1.2,1.0,1.6,1.4,1.0,1.8,1.4,1.2,1.6,1.0,1.4,2.0,1.2],
[0.9,0.1,1.4,0.6,0.4,0.2,0.2,0.1,0.2,1.2,0.8,0.6,1.0,1.2,0.8,1.0,1.2,1.6,1.2,1.4,1.8,2.6,1.2,1.6,1.4,1.2,1.8,1.4,1.2,3.2],
[1.0,0.2,1.1,0.4,0.3,0.1,0,0.2,0.4,0.4,0.2,0.6,0.8,0.4,0.6,0.4,1.0,0.6,0.8,0.6,0.4,1.0,1.2,0.6,0.8,1.0,0.6,0.4,0.8,1.0],
[1.1,0.1,2.2,0.5,0.5,0,0.1,0.2,0.2,0.6,4.5,1.2,1.0,0.8,0.6,1.2,1.0,1.4,1.2,1.6,1.4,1.2,2.0,1.0,1.6,1.4,1.2,1.6,1.8,1.4],
[0.9,0.1,1.5,0.3,0.3,0.1,0.1,0.1,0.3,0.6,0.4,0.6,0.2,0.6,0.4,0.2,0.6,0.4,1.0,0.6,1.0,0.8,0.6,1.2,0.8,0.4,1.0,0.6,0.8,0.6],
[1.0,0.2,2.7,0.4,0.4,0,0,0.3,0.2,0.8,1.0,0.6,1.2,0.8,0.6,1.4,1.0,1.6,1.2,2.0,1.4,1.2,1.8,1.4,1.2,2.0,1.6,1.2,1.4,1.6],
[1.1,0.1,1.2,0.6,0.2,0.1,0.2,0.2,0.1,0.2,0.6,0.4,0.2,0.6,0.4,0.4,0.8,0.6,0.4,1.0,1.2,0.6,1.0,0.8,0.6,1.2,0.8,1.0,0.6,0.8],
[0.8,0.2,1.6,0.4,0.5,0.1,3.3,0.1,0.3,0.4,0.6,1.0,0.8,0.6,1.2,1.0,0.8,1.4,1.6,1.2,1.8,1.4,1.2,4.8,1.2,1.4,1.0,1.6,1.2,1.4],
[1.0,0.1,1.9,0.3,0.3,0,0.1,0.2,0.2,0.8,0.8,1.2,1.0,0.8,0.8,1.2,1.0,1.4,1.2,1.8,1.4,1.6,6.9,3.0,1.6,1.2,1.4,1.8,1.2,1.6],
[1.2,0.1,1.3,0.5,0.4,0.2,0,0.3,0.3,0.6,1.0,0.6,0.8,1.0,1.2,0.6,1.0,4.8,1.2,1.6,1.2,1.4,1.2,1.8,1.0,1.6,1.4,1.2,1.8,1.2],
[0.9,0.2,1.0,0.4,0.2,0.1,0.1,0.2,0.2,0.4,0.2,0.4,0.2,0.4,0.2,0.6,0.6,0.6,0.8,1.0,0.8,1.2,0.6,0.8,1.0,0.6,0.8,0.4,1.0,0.8],
[1.1,0.1,2.5,0.6,0.6,0,0.2,0.1,0.4,0.8,0.8,0.8,1.2,1.2,1.0,0.8,1.0,1.6,1.2,1.8,4.5,1.4,1.6,1.2,1.4,1.8,1.2,1.6,1.4,1.2],
[1.0,0.2,1.8,0.3,0.3,0.1,0.1,0.3,0.1,0.4,1.2,1.2,0.6,1.0,0.8,1.0,1.4,1.0,1.6,1.4,1.6,1.2,1.8,1.4,1.2,5.3,1.2,1.4,1.8,1.6],
[0.9,0.1,1.4,0.5,0.4,0.1,0.1,0.2,0.3,0.2,0.4,0.6,0.4,0.2,0.6,0.4,0.6,0.6,1.0,0.8,1.0,0.6,1.2,0.8,1.0,0.6,1.2,0.8,0.6,0.4]];

const svg=d3.select("#c");
const MONO="'DejaVu Sans Mono', monospace";
const x=d3.scaleLinear().domain([0,360]).range([50.5,690.3]);
const yL=d3.scaleLinear().domain([30,-45]).range([20,545]);
const yR=d3.scaleLinear().domain([75,0]).range([20,545]);

// grid
const g=svg.append("g");
leftTicks.forEach(v=>{
  const yy=Math.round(yL(v))+(v%10===0?0:0.5);
  g.append("line").attr("x1",50).attr("x2",691).attr("y1",yy).attr("y2",yy)
   .attr("stroke",v===0?"#8c8c8c":"#c0c0c0").attr("stroke-width",v%10===0?2:1);
});
dateLabels.forEach((d,i)=>{
  const xx=Math.floor(x(24*i))+0.5;
  g.append("line").attr("x1",xx).attr("x2",xx).attr("y1",0).attr("y2",600)
   .attr("stroke","#c0c0c0").attr("stroke-width",1);
});
svg.append("line").attr("x1",50).attr("x2",691).attr("y1",600.5).attr("y2",600.5).attr("stroke","#000");

// axis labels
const ax=svg.append("g").attr("font-family","'Liberation Sans', Arial, sans-serif").attr("font-size",11).attr("fill","#000");
leftTicks.forEach(v=>ax.append("text").attr("x",20).attr("y",yL(v)+7.3).text(v));
rightTicks.forEach(v=>ax.append("text").attr("x",709).attr("y",yR(v)+7.3).text(v));

const tx=svg.append("g").attr("font-family",MONO).attr("font-size",10).attr("fill","#000");
dateLabels.forEach((d,i)=>{
  tx.append("text").attr("transform",`translate(${x(24*i)+10},603) rotate(-90)`).attr("text-anchor","end").text(d);
});
tx.append("text").attr("x",20).attr("y",608.5).text("(°C)");
tx.append("text").attr("x",710).attr("y",608.5).text("(mm)");
tx.append("text").attr("x",60).attr("y",207.5).text("Temp. 850hPa");
tx.append("text").attr("x",60).attr("y",397.5).text("Temp. 500hPa");
tx.append("text").attr("x",60).attr("y",507).text("Précipitations");

// members
const mg=svg.append("g").attr("fill","none").attr("stroke-width",1);
function drawMember(vals,xf,yf,col){
  const pts=vals.map((v,i)=>[xf(i),yf(v)]);
  mg.append("path").attr("d",d3.line()(pts)).attr("stroke",col);
  mg.append("path").attr("d",pts.map(p=>`M${p[0]-1.5},${p[1]}h3M${p[0]},${p[1]-1.5}v3`).join("")).attr("stroke",col);
}
for(let m=0;m<50;m++){
  const col=memberColors[m];
  drawMember(t850Members[m],i=>x(i*12),yL,col);
  drawMember(t500Members[m],i=>x(i*12),yL,col);
  drawMember(precipMembers[m],i=>x((i+1)*12),yR,col);
}

// control and mean
function thick(vals,xf,yf,col,w){
  svg.append("path").attr("d",d3.line().x((d,i)=>xf(i)).y(d=>yf(d))(vals))
   .attr("fill","none").attr("stroke",col).attr("stroke-width",w).attr("stroke-linejoin","round");
}
thick(ctrlT850,i=>x(i*6),yL,"#000",3);
thick(ctrlT500,i=>x(i*6),yL,"#000",3);
thick(ctrlPrecip,i=>x((i+1)*6),yR,"#000",3);
thick(meanT850,i=>x(i*6),yL,"#ff0000",4.5);
thick(meanT500,i=>x(i*6),yL,"#ff0000",4.5);
thick(meanPrecip,i=>x((i+1)*6),yR,"#ff0000",4.5);

// legend
svg.append("line").attr("x1",35).attr("x2",65).attr("y1",640).attr("y2",640).attr("stroke","#ff0000").attr("stroke-width",4);
svg.append("line").attr("x1",225).attr("x2",255).attr("y1",640).attr("y2",640).attr("stroke","#000").attr("stroke-width",4);
tx.append("text").attr("x",75).attr("y",643.5).text("Moyenne des scénarios");
tx.append("text").attr("x",265).attr("y",643.5).text("Contrôle/Det");
tx.append("text").attr("x",370).attr("y",656).text("50 Perts.");
const lg=svg.append("g");
for(let i=0;i<25;i++){
  const x0=429+11*i;
  lg.append("rect").attr("x",x0).attr("y",645).attr("width",10).attr("height",6).attr("fill",memberColors[i]);
  lg.append("rect").attr("x",x0).attr("y",651).attr("width",10).attr("height",6).attr("fill",memberColors[i+25]);
  lg.append("text").attr("x",x0+5).attr("y",642.7).attr("text-anchor","middle").attr("font-family",MONO).attr("font-weight","bold").attr("font-size",8).text(String(i+1).padStart(2,"0"));
  lg.append("text").attr("x",x0+5).attr("y",665.5).attr("text-anchor","middle").attr("font-family",MONO).attr("font-weight","bold").attr("font-size",8).text(String(i+26));
}
// title box
svg.append("rect").attr("x",21.5).attr("y",667.5).attr("width",419).attr("height",31).attr("fill","none").attr("stroke","#000");
svg.append("text").attr("x",30).attr("y",682).attr("font-family",MONO).attr("font-weight","bold").attr("font-size",11.4).text("Diagramme ensembles ECMWF/CEP 0.25° sur 360h : 47.2N 8.3E");
tx.append("text").attr("x",30).attr("y",694.3).text("Températures 850hPa et 500hPa (°C) , précipitations (mm)");
tx.append("text").attr("x",449).attr("y",679.3).text("Ensemble ECMWF/CEP du 29/01/2026 - 00Z");
svg.append("text").attr("x",449).attr("y",695).attr("font-family",MONO).attr("font-weight","bold").attr("font-size",11.5).text("Copyright 2026 Meteociel.fr - ECMWF");
</script>
</body></html>
